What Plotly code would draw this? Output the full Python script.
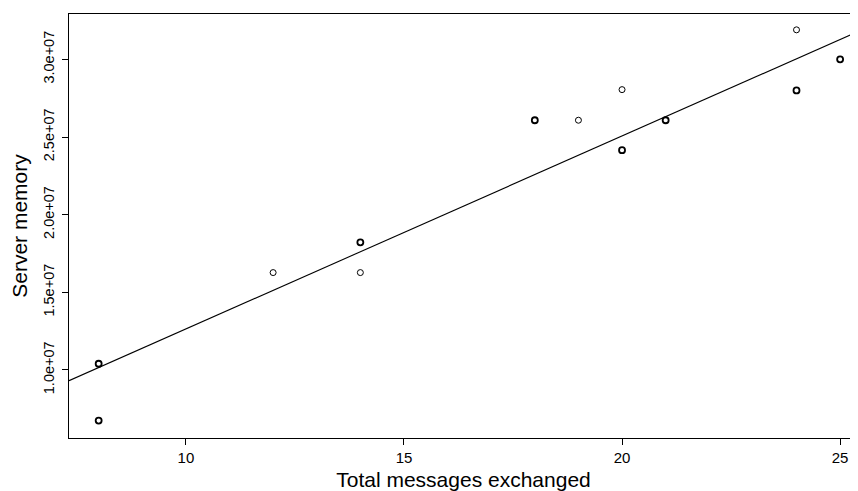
import plotly.graph_objects as go

# Data
messages = [8, 8, 12, 14, 14, 18, 19, 20, 20, 21, 24, 24, 25]
memory = [1.04e7, 0.674e7, 1.627e7, 1.822e7, 1.627e7, 2.608e7, 2.608e7,
          2.805e7, 2.415e7, 2.608e7, 3.19e7, 2.80e7, 3.0e7]
overlap = [2, 2, 1, 2, 1, 2, 1, 1, 2, 2, 1, 2, 2]  # overplotted observations

fit_intercept = 0.213e6
fit_slope = 1.2427e6

x_ticks = [10, 15, 20, 25]
y_ticks = [1.0e7, 1.5e7, 2.0e7, 2.5e7, 3.0e7]
y_tick_labels = ["1.0e+07", "1.5e+07", "2.0e+07", "2.5e+07", "3.0e+07"]

x_range = [7.32, 25.41]
y_range = [0.562e7, 3.292e7]

FONT = "Liberation Sans, Arial, Helvetica, sans-serif"

fig = go.Figure()

fig.add_trace(go.Scatter(
    x=x_range,
    y=[fit_intercept + fit_slope * v for v in x_range],
    mode="lines",
    line=dict(color="black", width=1.1),
    hoverinfo="skip",
    showlegend=False,
))

fig.add_trace(go.Scatter(
    x=messages, y=memory, mode="markers",
    marker=dict(symbol="circle-open", size=6, color="black",
                line=dict(color="black", width=[1.0 + 0.8 * (c - 1) for c in overlap])),
    showlegend=False,
))

# The page body adds an 8px offset; size the figure so the plot lands where the reference has it.
fig.update_layout(
    width=850, height=483,
    margin=dict(l=61, r=0, t=6, b=53),
    paper_bgcolor="white", plot_bgcolor="white",
    font=dict(family=FONT, color="black", size=14),
)

fig.update_xaxes(
    range=x_range, showgrid=False, zeroline=False, automargin=False,
    showline=True, linecolor="black", linewidth=1, mirror=True,
    ticks="outside", ticklen=6, tickcolor="black",
    tickvals=x_ticks, ticktext=[str(v) for v in x_ticks],
    tickfont=dict(size=15, family=FONT),
    title=dict(text="Total messages exchanged", font=dict(size=21, family=FONT), standoff=7),
)

fig.update_yaxes(
    range=y_range, showgrid=False, zeroline=False, automargin=False,
    showline=True, linecolor="black", linewidth=1, mirror=False,
    ticks="outside", ticklen=6, tickcolor="black",
    tickvals=y_ticks, ticktext=y_tick_labels, tickangle=-90,
    tickfont=dict(size=14.5, family=FONT), ticklabelstandoff=2,
    title=dict(text="Server memory", font=dict(size=21, family=FONT), standoff=10),
)

fig.write_html("out.html")
